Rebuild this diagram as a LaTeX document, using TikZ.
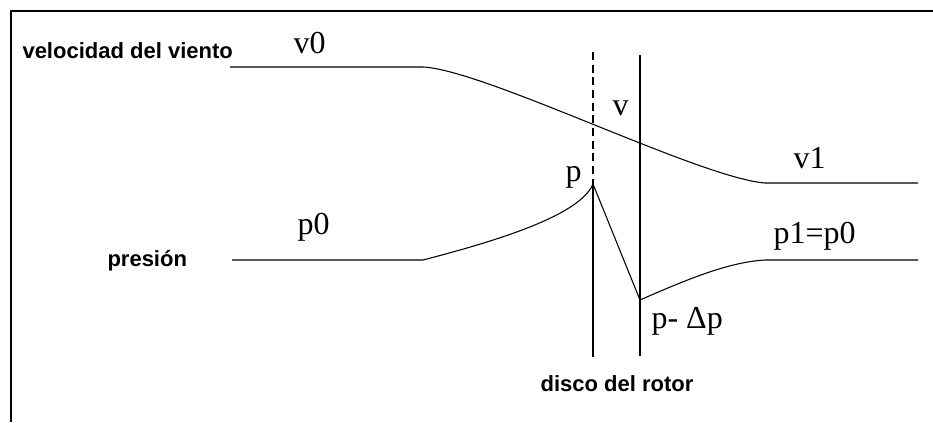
\documentclass[tikz,border=0pt]{standalone}
\usepackage{fontspec}
\setmainfont{Liberation Serif}
\setsansfont{Liberation Sans}
\begin{document}
\begin{tikzpicture}[x=0.75pt,y=-0.75pt,line width=0.8pt,
  axislbl/.style={font=\sffamily\bfseries\fontsize{16.5}{18}\selectfont,inner sep=0pt,anchor=base west},
  symlbl/.style={font=\fontsize{24}{26}\selectfont,inner sep=0pt,anchor=base west}]
\useasboundingbox (0,0) rectangle (933,422);
\draw[line width=1.5pt] (933,11) -- (11,11) -- (11,422);

% points of the curves
\coordinate (va) at (230,67);
\coordinate (vb) at (423,67);
\coordinate (vc) at (765,183);
\coordinate (vd) at (918,183);
\coordinate (pa) at (232,260);
\coordinate (pb) at (423,260);
\coordinate (pk) at (593,184);
\coordinate (pm) at (640,300);
\coordinate (pc) at (765,260);
\coordinate (pd) at (918,260);

% rotor disc
\coordinate (dtop) at (593,52);
\coordinate (dbot) at (593,357);
\coordinate (rtop) at (640,55);
\coordinate (rbot) at (640,356);

\draw[dash pattern=on 6pt off 3.5pt] (dtop) -- (pk);
\draw (pk) -- (dbot);
\draw (rtop) -- (rbot);

\draw (va) -- (vb) .. controls (485,70) and (700,178) .. (vc) -- (vd);
\draw (pa) -- (pb) .. controls (500,240) and (580,215) .. (pk) -- (pm)
  .. controls (690,278) and (730,262) .. (pc) -- (pd);

\node[axislbl] (velo) at (22,58) {velocidad del viento};
\node[axislbl] (pres) at (107,266) {presión};
\node[axislbl,anchor=base] (disco) at (617,391) {disco del rotor};

\node[symlbl] (v0) at (293,53) {v0};
\node[symlbl] (v) at (612,115) {v};
\node[symlbl] (v1) at (793,168) {v1};
\node[symlbl] (p) at (565,181) {p};
\node[symlbl] (p0) at (297,234) {p0};
\node[symlbl] (p1) at (773,243) {p1=p0};
\node[symlbl] (pdp) at (651,328) {p- Δp};
\end{tikzpicture}
\end{document}
